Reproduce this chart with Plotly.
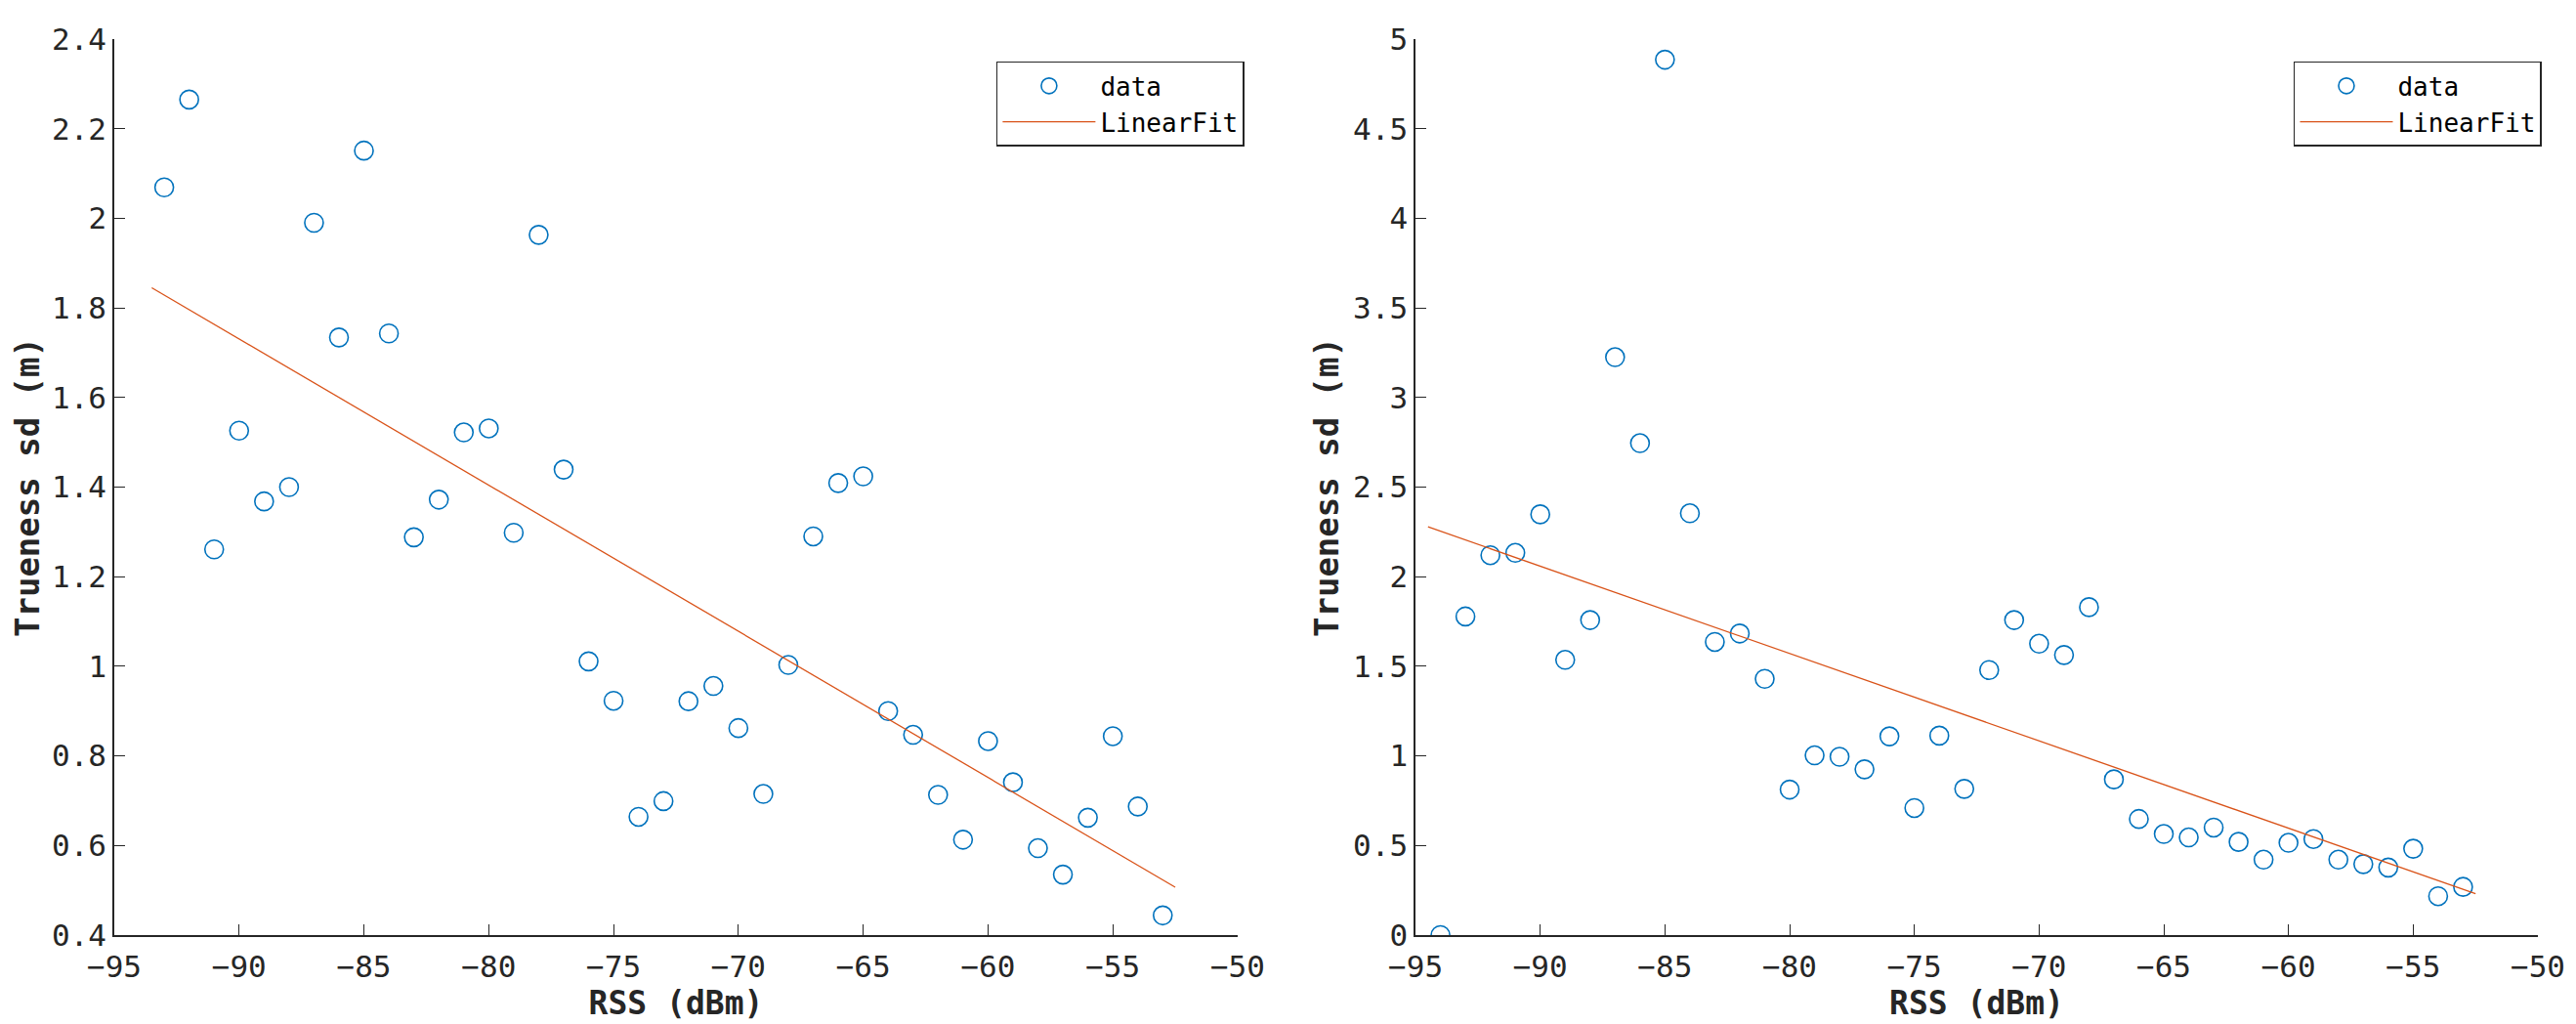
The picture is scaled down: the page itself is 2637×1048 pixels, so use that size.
import plotly.graph_objects as go
from plotly.subplots import make_subplots

################################################################################
# Data

# left panel
rss_left = [-93, -92, -91, -90, -89, -88, -87, -86, -85, -84, -83, -82, -81, -80,
            -79, -78, -77, -76, -75, -74, -73, -72, -71, -70, -69, -68, -67, -66,
            -65, -64, -63, -62, -61, -60, -59, -58, -57, -56, -55, -54, -53]
sd_left = [2.069, 2.265, 1.261, 1.526, 1.368, 1.400, 1.990, 1.734, 2.151, 1.743,
           1.288, 1.372, 1.522, 1.531, 1.298, 1.963, 1.439, 1.011, 0.923, 0.664,
           0.699, 0.922, 0.956, 0.862, 0.715, 1.003, 1.290, 1.409, 1.424, 0.900,
           0.847, 0.713, 0.613, 0.833, 0.741, 0.594, 0.535, 0.662, 0.844, 0.687,
           0.444]
fit_x_left = [-93.5, -52.5]
fit_y_left = [1.845, 0.507]

# right panel
rss_right = [-94, -93, -92, -91, -90, -89, -88, -87, -86, -85, -84, -83, -82, -81,
             -80, -79, -78, -77, -76, -75, -74, -73, -72, -71, -70, -69, -68, -67,
             -66, -65, -64, -63, -62, -61, -60, -59, -58, -57, -56, -55, -54, -53]
sd_right = [0.0, 1.778, 2.120, 2.133, 2.348, 1.536, 1.758, 3.225, 2.745, 4.885,
            2.354, 1.636, 1.683, 1.430, 0.812, 1.003, 0.995, 0.925, 1.109, 0.709,
            1.113, 0.816, 1.479, 1.758, 1.626, 1.563, 1.830, 0.869, 0.648, 0.564,
            0.545, 0.600, 0.520, 0.421, 0.515, 0.536, 0.421, 0.396, 0.377, 0.482,
            0.217, 0.269]
fit_x_right = [-94.5, -52.5]
fit_y_right = [2.278, 0.231]

# ticks
x_ticks = [-95, -90, -85, -80, -75, -70, -65, -60, -55, -50]
y_ticks_left = [0.4, 0.6, 0.8, 1.0, 1.2, 1.4, 1.6, 1.8, 2.0, 2.2, 2.4]
y_labels_left = ["0.4", "0.6", "0.8", "1", "1.2", "1.4", "1.6", "1.8", "2", "2.2", "2.4"]
y_ticks_right = [0, 0.5, 1, 1.5, 2, 2.5, 3, 3.5, 4, 4.5, 5]
y_labels_right = ["0", "0.5", "1", "1.5", "2", "2.5", "3", "3.5", "4", "4.5", "5"]

################################################################################
# Figure

blue = "#0072BD"
orange = "#D95319"
axcol = "#262626"
mono = "DejaVu Sans Mono"

fig = make_subplots(rows=1, cols=2)

fig.add_trace(go.Scatter(
    x=rss_left, y=sd_left, name="data", mode="markers",
    marker=dict(symbol="circle-open", size=19, color=blue, line=dict(width=1.6, color=blue)),
    legend="legend",
    ), row=1, col=1)
fig.add_trace(go.Scatter(
    x=fit_x_left, y=fit_y_left, name="LinearFit", mode="lines",
    line=dict(color=orange, width=1.3), legend="legend",
    ), row=1, col=1)
fig.add_trace(go.Scatter(
    x=rss_right, y=sd_right, name="data", mode="markers",
    marker=dict(symbol="circle-open", size=19, color=blue, line=dict(width=1.6, color=blue)),
    legend="legend2",
    ), row=1, col=2)
fig.add_trace(go.Scatter(
    x=fit_x_right, y=fit_y_right, name="LinearFit", mode="lines",
    line=dict(color=orange, width=1.3), legend="legend2",
    ), row=1, col=2)

axis_common = dict(
    showline=True, linecolor=axcol, linewidth=1.5, mirror=False,
    showgrid=False, zeroline=False,
    ticks="inside", ticklen=11, tickwidth=1.3, tickcolor=axcol,
    tickfont=dict(family=mono, size=31, color=axcol),
)

fig.update_xaxes(**axis_common, range=[-95, -50], tickvals=x_ticks,
                 ticklabelstandoff=4,
                 title=dict(text="RSS (dBm)", standoff=0,
                            font=dict(family=mono, size=33, color=axcol, weight="bold")))
fig.update_xaxes(domain=[0, 0.4635], row=1, col=1)
fig.update_xaxes(domain=[0.5369, 1.0], row=1, col=2)

fig.update_yaxes(**axis_common,
                 title=dict(text="Trueness sd (m)", standoff=4,
                            font=dict(family=mono, size=34, color=axcol, weight="bold")))
fig.update_yaxes(range=[0.4, 2.4], tickvals=y_ticks_left, ticktext=y_labels_left, row=1, col=1)
fig.update_yaxes(range=[0, 5], tickvals=y_ticks_right, ticktext=y_labels_right, row=1, col=2)

legend_common = dict(
    font=dict(family=mono, size=26, color="black"),
    bgcolor="white", bordercolor=axcol, borderwidth=1.5,
    xanchor="right", yanchor="top", itemwidth=95, tracegroupgap=0,
)
fig.update_layout(
    width=2637, height=1048,
    margin=dict(l=109, r=47, t=32, b=99),
    paper_bgcolor="white", plot_bgcolor="white",
    showlegend=True,
    legend=dict(**legend_common, x=0.4663, y=0.975),
    legend2=dict(**legend_common, x=1.0016, y=0.975),
)

fig.write_html("out.html")
